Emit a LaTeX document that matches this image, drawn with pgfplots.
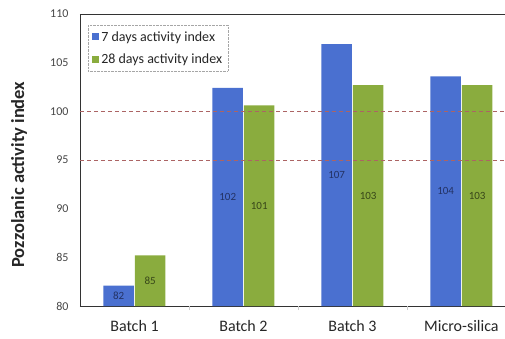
\documentclass[border=0pt]{standalone}
\usepackage{pgfplots}
\pgfplotsset{compat=1.18}
\usepackage{fontspec}
\setmainfont{Carlito}
\definecolor{barblue}{RGB}{74,112,208}
\definecolor{bargreen}{RGB}{138,172,62}
\definecolor{refred}{RGB}{172,100,100}
\definecolor{ticktext}{RGB}{70,70,70}
\definecolor{lblblue}{RGB}{35,50,100}
\definecolor{lblgreen}{RGB}{55,70,25}
\begin{document}
\begin{tikzpicture}
\begin{axis}[
  scale only axis, width=425pt, height=292pt,
  /pgf/number format/assume math mode=true,
  ymin=80, ymax=110, ytick={80,85,...,110},
  xmin=-0.5, xmax=3.4,
  xtick={0,1,2,3}, xticklabels={Batch 1,Batch 2,Batch 3,Micro-silica},
  extra x ticks={0.5,1.5,2.5}, extra x tick labels={},
  extra x tick style={major tick length=4pt, tick align=outside, major tick style={gray!40}},
  ybar=1pt, bar width=30.5pt,
  separate axis lines,
  axis x line=box, axis y line=left,
  x axis line style={-, black!80, line width=0.7pt},
  y axis line style={-, black!80, line width=0.7pt},
  xtick pos=bottom, ytick pos=left,
  major tick length=0pt,
  xticklabel style={font=\fontsize{16}{18}\selectfont, text=black!85, yshift=-11pt},
  yticklabel style={font=\fontsize{12}{14}\selectfont, text=ticktext, xshift=-8pt},
  ylabel={Pozzolanic activity index},
  ylabel style={font=\fontsize{18.5}{20}\selectfont\bfseries, text=black!85, at={(axis description cs:-0.1435,0.45)}, anchor=center},
  legend style={at={(0.019,0.962)}, anchor=north west, draw=gray!70, densely dotted,
    font=\fontsize{14}{15}\selectfont, text=black!85, row sep=7pt, inner xsep=4pt, inner ysep=4pt,
    /tikz/every even column/.append style={column sep=1pt}},
  legend image code/.code={\fill[#1, draw=none, solid] (0pt,-3.5pt) rectangle (7pt,3.5pt);},
  legend cell align=left,
]
\addplot[fill=barblue, draw=none,
  nodes near coords={\pgfmathprintnumber[fixed,precision=0]{\pgfplotspointmeta}},
  point meta=y,
  visualization depends on=rawy \as \rawy,
  every node near coord/.append style={anchor=center, font=\fontsize{11}{12}\selectfont, text=lblblue,
    shift={(axis direction cs:0,{-(\rawy-80)/2})}}]
  coordinates {(0,82.1) (1,102.4) (2,106.9) (3,103.6)};
\addlegendentry{7 days activity index}
\addplot[fill=bargreen, draw=none,
  nodes near coords={\pgfmathprintnumber[fixed,precision=0]{\pgfplotspointmeta}},
  point meta=y,
  visualization depends on=rawy \as \rawy,
  every node near coord/.append style={anchor=center, font=\fontsize{11}{12}\selectfont, text=lblgreen,
    shift={(axis direction cs:0,{-(\rawy-80)/2})}}]
  coordinates {(0,85.2) (1,100.6) (2,102.7) (3,102.7)};
\addlegendentry{28 days activity index}
\addplot[sharp plot, forget plot, refred, line width=0.8pt, dash pattern=on 4pt off 3pt] coordinates {(-0.5,100) (3.4,100)};
\addplot[sharp plot, forget plot, refred, line width=0.8pt, dash pattern=on 4pt off 3pt] coordinates {(-0.5,95) (3.4,95)};
\end{axis}
\pgfresetboundingbox
\useasboundingbox (-80pt,-32pt) rectangle (425pt,306pt);
\end{tikzpicture}
\end{document}
